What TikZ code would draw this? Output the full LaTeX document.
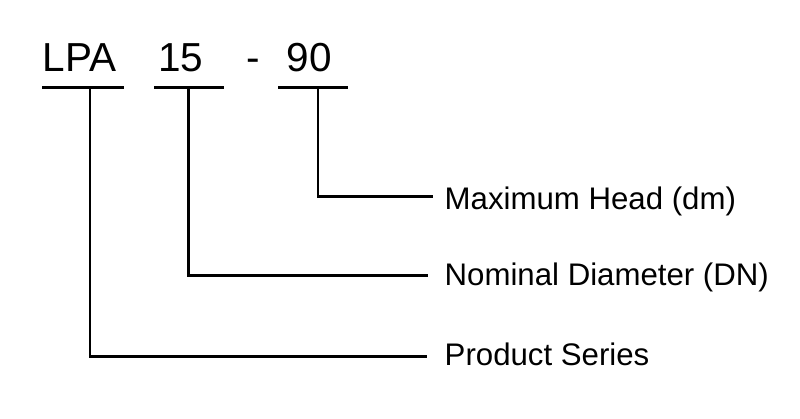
\documentclass[tikz,border=0pt]{standalone}
\usepackage{fontspec}
\setmainfont{Liberation Sans}
\begin{document}
\begin{tikzpicture}[x=1pt,y=-1pt,
  codetext/.style={font=\fontsize{40.5}{40.5}\selectfont, inner sep=0pt, anchor=base},
  labeltext/.style={font=\fontsize{31.2}{31.2}\selectfont, inner sep=0pt, anchor=base west},
  rule/.style={line width=2.5pt, line cap=butt, line join=miter}]
\useasboundingbox (0,0) rectangle (800,418);
% code parts
\node[codetext] (lpa) at (79.5,71) {LPA};
\node[codetext] (dn) at (181,71) {15};
\node[codetext] (dash) at (253,71) {-};
\node[codetext] (head) at (309.5,71) {90};
% underlines
\coordinate (l1) at (42,87.7);  \coordinate (r1) at (124,87.7);
\coordinate (l2) at (154,87.7); \coordinate (r2) at (224,87.7);
\coordinate (l3) at (278,87.7); \coordinate (r3) at (348,87.7);
\draw[rule] (l1) -- (r1);
\draw[rule] (l2) -- (r2);
\draw[rule] (l3) -- (r3);
% labels
\node[labeltext] (lmax) at (444.5,209) {Maximum Head (dm)};
\node[labeltext] (lnom) at (444.5,285) {Nominal Diameter (DN)};
\node[labeltext] (lprod) at (444.5,365) {Product Series};
% leader ends
\coordinate (t1) at (90,87.7);  \coordinate (e1) at (427,356.7);
\coordinate (t2) at (188.5,87.7); \coordinate (e2) at (428,275.7);
\coordinate (t3) at (318,87.7); \coordinate (e3) at (433,196.7);
\draw[rule] (t1) |- (e1);
\draw[rule] (t2) |- (e2);
\draw[rule] (t3) |- (e3);
\end{tikzpicture}
\end{document}
